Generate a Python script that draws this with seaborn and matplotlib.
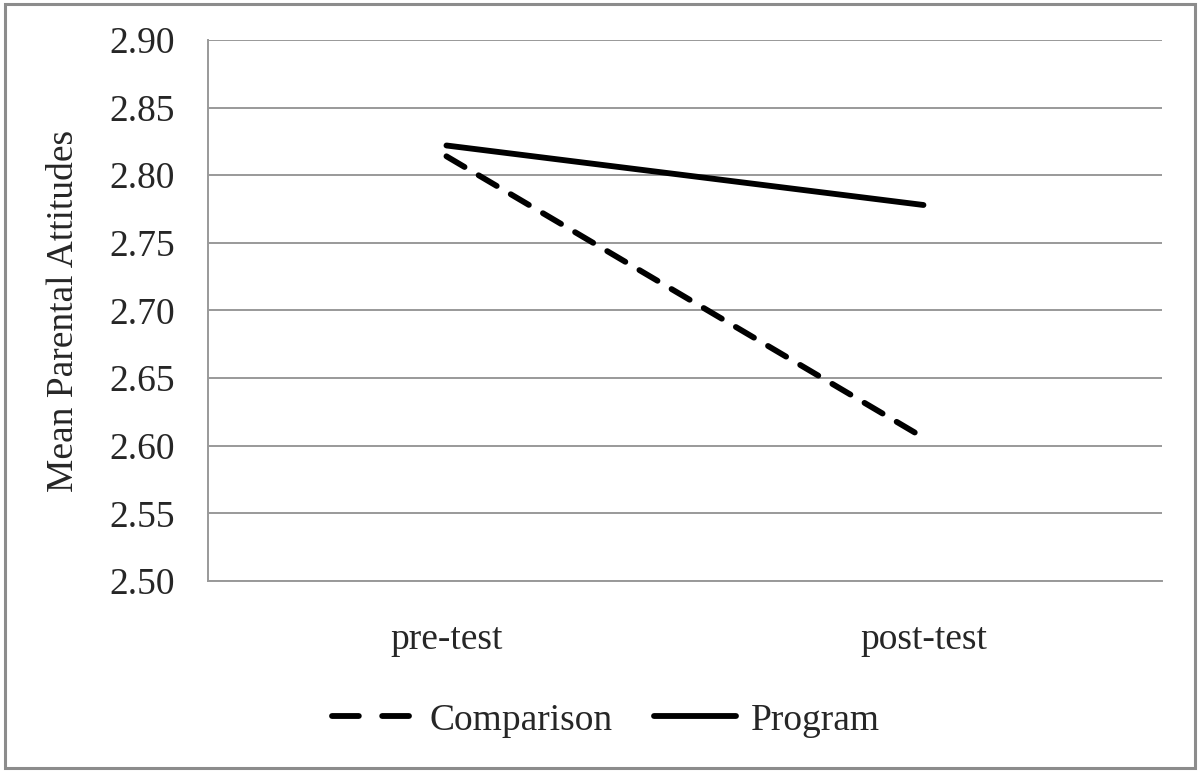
import pandas as pd
import seaborn as sns
import matplotlib.pyplot as plt
from matplotlib.patches import Rectangle

# values
tests = ['pre-test', 'post-test']
comparison = [2.814, 2.606]
program = [2.822, 2.778]
yticks = [2.50, 2.55, 2.60, 2.65, 2.70, 2.75, 2.80, 2.85, 2.90]

data = pd.DataFrame({
    'Test': tests * 2,
    'Mean': comparison + program,
    'Group': ['Comparison'] * 2 + ['Program'] * 2,
})

sns.set_style('white')
plt.rcParams['font.family'] = ['Liberation Serif', 'DejaVu Serif']

fig = plt.figure(figsize=(12, 7.72), dpi=100)
ax = fig.add_axes([0.1733, 0.2474, 0.795, 0.7008])

sns.lineplot(data=data, x='Test', y='Mean', style='Group', color='black',
             dashes={'Comparison': (3.6, 2.8), 'Program': ''}, linewidth=4.2,
             ax=ax, legend=False, sort=False)
for ln in ax.lines:
    ln.set_dash_capstyle('round')
    ln.set_solid_capstyle('round')

ax.set_xlim(-0.5, 1.5)
ax.set_ylim(2.50, 2.90)
ax.set_yticks(yticks)
ax.set_yticklabels(['%.2f' % t for t in yticks])
ax.yaxis.grid(True, color='#999999', linewidth=1.4)
ax.set_axisbelow(True)
for s in ['top', 'right']:
    ax.spines[s].set_visible(False)
for s in ['left', 'bottom']:
    ax.spines[s].set_color('#999999')
    ax.spines[s].set_linewidth(1.4)
ax.tick_params(axis='y', length=0, pad=24, labelsize=27)
ax.tick_params(axis='x', length=0, pad=30, labelsize=27)
ax.set_xlabel('')
ax.set_ylabel('Mean Parental Attitudes', fontsize=27, labelpad=20)

# legend handles: two dashes for Comparison, solid for Program
handles = [plt.Line2D([], [], color='black', linewidth=4.2, dashes=(4.6, 4.0),
                      dash_capstyle='round'),
           plt.Line2D([], [], color='black', linewidth=4.2, solid_capstyle='round')]
fig.legend(handles, ['Comparison', 'Program'], loc='center', ncol=2,
           bbox_to_anchor=(0.505, 0.067), frameon=False, fontsize=27,
           handlelength=2.2, columnspacing=1.1, handletextpad=0.4)

fig.patches.append(Rectangle((0.004, 0.005), 0.992, 0.99, transform=fig.transFigure,
                             fill=False, edgecolor='#8c8c8c', linewidth=2.2))

fig.savefig('out.png', dpi=100)
